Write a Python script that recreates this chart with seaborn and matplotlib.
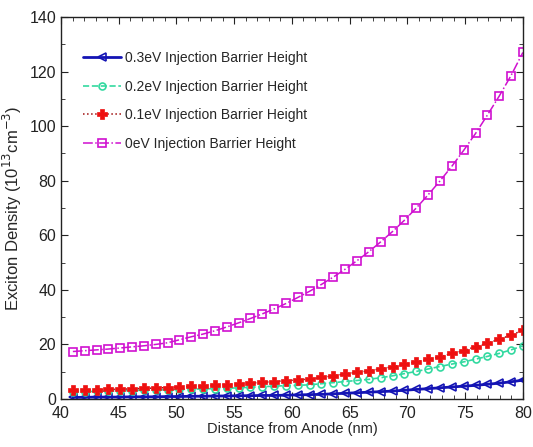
import numpy as np
import pandas as pd
import matplotlib
matplotlib.use('Agg')
import matplotlib.pyplot as plt
import seaborn as sns
from matplotlib.ticker import MultipleLocator

distance = [41.03, 42.05, 43.08, 44.10, 45.13, 46.15, 47.18, 48.21, 49.23, 50.26,
            51.28, 52.31, 53.33, 54.36, 55.38, 56.41, 57.44, 58.46, 59.49, 60.51,
            61.54, 62.56, 63.59, 64.62, 65.64, 66.67, 67.69, 68.72, 69.74, 70.77,
            71.79, 72.82, 73.85, 74.87, 75.90, 76.92, 77.95, 78.97, 80.00]

dens_03 = [0.6, 0.6, 0.7, 0.7, 0.7, 0.8, 0.8, 0.8, 0.9, 0.9,
           1.0, 1.0, 1.1, 1.1, 1.2, 1.2, 1.3, 1.3, 1.4, 1.5,
           1.6, 1.7, 1.9, 2.1, 2.3, 2.5, 2.7, 2.9, 3.2, 3.5,
           3.8, 4.1, 4.4, 4.7, 5.0, 5.4, 5.8, 6.3, 6.9]
dens_02 = [2.6, 2.7, 2.8, 2.9, 3.0, 3.1, 3.2, 3.3, 3.4, 3.5,
           3.6, 3.7, 3.8, 3.9, 4.1, 4.3, 4.5, 4.7, 4.9, 5.0,
           5.2, 5.6, 6.0, 6.4, 6.8, 7.2, 7.8, 8.5, 9.3, 10.1,
           11.0, 11.9, 12.8, 13.6, 14.6, 15.6, 16.7, 18.0, 19.5]
dens_01 = [3.2, 3.3, 3.4, 3.5, 3.6, 3.7, 3.9, 4.0, 4.2, 4.4,
           4.6, 4.8, 5.0, 5.3, 5.5, 5.8, 6.1, 6.4, 6.7, 7.0,
           7.3, 7.9, 8.5, 9.2, 9.8, 10.3, 11.1, 11.8, 12.8, 13.6,
           14.5, 15.5, 16.7, 17.7, 19.2, 20.4, 21.9, 23.4, 25.2]
dens_00 = [17.4, 17.7, 18.0, 18.3, 18.7, 19.1, 19.5, 20.0, 20.6, 21.7,
           22.8, 23.8, 25.0, 26.4, 27.9, 29.5, 31.2, 33.0, 35.0, 37.2,
           39.5, 42.0, 44.7, 47.6, 50.7, 54.0, 57.6, 61.4, 65.5, 70.0,
           74.8, 79.9, 85.3, 91.1, 97.3, 104.0, 111.0, 118.5, 127.0]

labels = ['0.3eV Injection Barrier Height', '0.2eV Injection Barrier Height',
          '0.1eV Injection Barrier Height', '0eV Injection Barrier Height']

sns.set_style('ticks')
plt.rcParams['font.family'] = ['Liberation Sans', 'DejaVu Sans']

fig = plt.figure(figsize=(5.33, 4.47), dpi=100)
ax = fig.add_axes([0.1144, 0.1074, 0.8666, 0.8546])

df = pd.DataFrame({'x': distance, 'a': dens_03, 'b': dens_02, 'c': dens_01, 'd': dens_00})

sns.lineplot(data=df, x='x', y='a', ax=ax, color='#1414b4', linestyle='-', lw=2.0,
             marker='<', markersize=5.5, mfc='none', mec='#1414b4', mew=1.2, label=labels[0])
sns.lineplot(data=df, x='x', y='b', ax=ax, color='#33d9a0', linestyle='--', lw=1.2,
             marker='o', markersize=5, mfc='none', mec='#33d9a0', mew=1.2, label=labels[1])
sns.lineplot(data=df, x='x', y='c', ax=ax, color='#a01010', linestyle=':', lw=1.1,
             marker='P', markersize=6.5, mfc='#ee1111', mec='#ee1111', mew=0.5, label=labels[2])
sns.lineplot(data=df, x='x', y='d', ax=ax, color='#d010d0', linestyle='-.', lw=1.1,
             marker='s', markersize=5.5, mfc='none', mec='#d010d0', mew=1.2, label=labels[3])

ax.set_xlim(40, 80)
ax.set_ylim(0, 140)
ax.xaxis.set_major_locator(MultipleLocator(5))
ax.xaxis.set_minor_locator(MultipleLocator(1))
ax.yaxis.set_major_locator(MultipleLocator(20))
ax.yaxis.set_minor_locator(MultipleLocator(10))
ax.tick_params(which='both', direction='in', top=True, right=True, labelsize=11.5, colors='#222222')
ax.tick_params(axis='x', pad=5)
ax.tick_params(which='major', length=5, width=0.8)
ax.tick_params(which='minor', length=3, width=0.6)
for s in ax.spines.values():
    s.set_color('#222222')
    s.set_linewidth(1.0)

ax.set_xlabel('Distance from Anode (nm)', fontsize=10.5, labelpad=1)
ax.set_ylabel('Exciton Density (10$^{13}$cm$^{-3}$)', fontsize=12, labelpad=4)

ax.legend(loc='upper left', bbox_to_anchor=(0.024, 0.94), frameon=False, fontsize=10,
          handlelength=2.7, labelspacing=1.05, handletextpad=0.3, borderaxespad=0.4)

fig.savefig('out.png', dpi=100)
